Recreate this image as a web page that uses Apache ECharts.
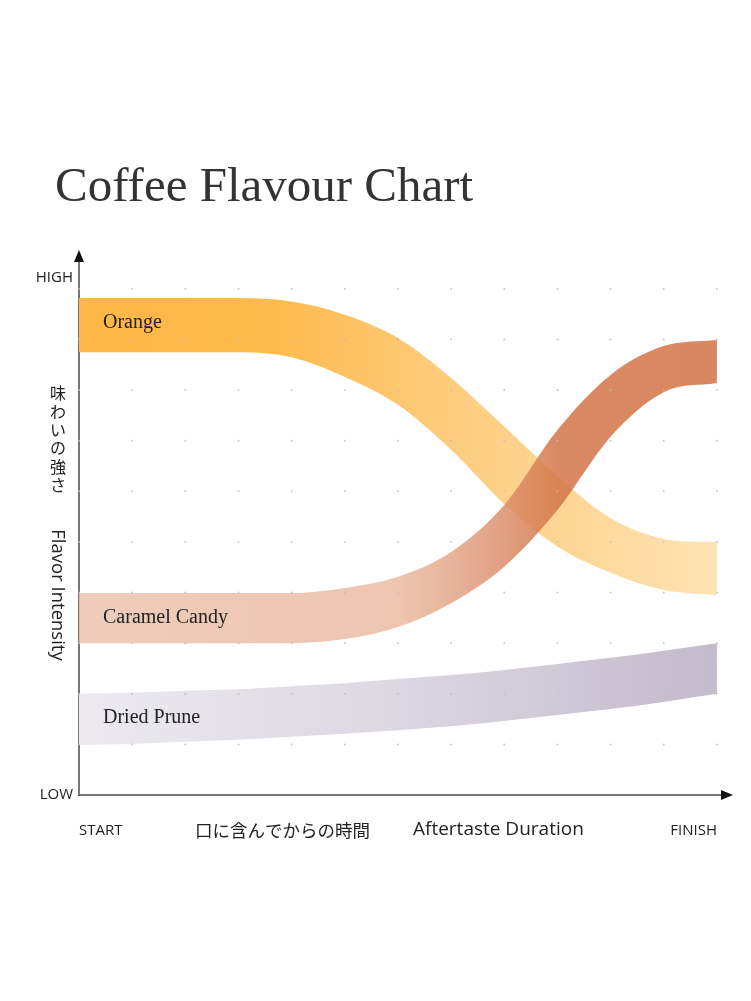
<!DOCTYPE html>
<html>
<head>
<meta charset="utf-8">
<title>Coffee Flavour Chart</title>
<script src="https://cdn.jsdelivr.net/npm/echarts@6/dist/echarts.min.js"></script>
<style>
  html, body { margin: 0; padding: 0; background: #fff; }
  #main { width: 751px; height: 1001px; }
</style>
</head>
<body>
<div id="main"></div>
<script>
// time steps along the x axis (START = 0 .. FINISH = 12)
const steps = [0, 1, 2, 3, 4, 5, 6, 7, 8, 9, 10, 11, 12]

// band edges (flavor intensity, 0 = LOW .. 10 = HIGH)
const orangeHigh = [9.82, 9.82, 9.82, 9.82, 9.75, 9.49, 9.03, 8.24, 7.28, 6.30, 5.47, 5.06, 5.00]
const orangeLow = [8.75, 8.75, 8.75, 8.75, 8.65, 8.26, 7.71, 6.82, 5.75, 4.91, 4.39, 4.05, 3.95]
const caramelHigh = [3.99, 3.99, 3.99, 3.99, 3.99, 4.09, 4.31, 4.80, 5.73, 7.21, 8.30, 8.87, 8.99]
const caramelLow = [3.00, 3.00, 3.00, 3.00, 3.00, 3.08, 3.32, 3.79, 4.51, 5.63, 7.08, 7.96, 8.14]
const pruneHigh = [2.00, 2.02, 2.06, 2.09, 2.15, 2.21, 2.29, 2.37, 2.47, 2.59, 2.71, 2.85, 3.00]
const pruneLow = [0.99, 1.01, 1.05, 1.09, 1.15, 1.21, 1.28, 1.36, 1.46, 1.58, 1.70, 1.84, 2.00]

// dotted background grid
const dotXs = [0, 1, 2, 3, 4, 5, 6, 7, 8, 9, 10, 11, 12]
const dotYs = [1, 2, 3, 4, 5, 6, 7, 8, 9, 10]

const SERIF = '"Liberation Serif", "Times New Roman", serif'
const SANS = '"Open Sans", "Noto Sans", sans-serif'
const CJK = '"Noto Sans CJK JP", sans-serif'

function gradient (stops) {
  return {
    type: 'linear', x: 0, y: 0, x2: 1, y2: 0,
    colorStops: stops.map(s => ({ offset: s[0], color: s[1] }))
  }
}

// cardinal-style tangents; flat where a neighbour segment is flat or the direction turns
function tangents (pts) {
  const n = pts.length
  const d = []
  for (let i = 0; i < n - 1; i++) {
    d.push((pts[i + 1][1] - pts[i][1]) / (pts[i + 1][0] - pts[i][0]))
  }
  const m = [d[0]]
  for (let i = 1; i < n - 1; i++) {
    if (d[i - 1] * d[i] <= 0) m.push(0)
    else m.push((pts[i + 1][1] - pts[i - 1][1]) / (pts[i + 1][0] - pts[i - 1][0]))
  }
  m.push(d[n - 2])
  return m
}

// lower edge is walked backwards, so tangents are computed on the forward order
function curve (pts, reverse) {
  const m = tangents(pts)
  const idx = pts.map((p, i) => i)
  if (reverse) idx.reverse()
  let p = (reverse ? 'L' : 'M') + pts[idx[0]][0] + ',' + pts[idx[0]][1]
  for (let k = 0; k < idx.length - 1; k++) {
    const a = idx[k]
    const b = idx[k + 1]
    const h = (pts[b][0] - pts[a][0]) / 3
    p += 'C' + (pts[a][0] + h) + ',' + (pts[a][1] + m[a] * h) + ' ' +
      (pts[b][0] - h) + ',' + (pts[b][1] - m[b] * h) + ' ' +
      pts[b][0] + ',' + pts[b][1]
  }
  return p
}

function band (name, low, high, stops, opacity) {
  return {
    name: name,
    type: 'custom',
    silent: true,
    clip: false,
    data: steps.map((x, i) => [x, low[i], high[i]]),
    renderItem: function (params, api) {
      if (params.dataIndex !== 0) return null
      const top = steps.map((x, i) => api.coord([x, high[i]]))
      const bottom = steps.map((x, i) => api.coord([x, low[i]]))
      return {
        type: 'path',
        shape: { pathData: curve(top, false) + curve(bottom, true) + 'Z' },
        style: { fill: gradient(stops), opacity: opacity }
      }
    }
  }
}

const dots = []
dotXs.forEach(x => dotYs.forEach(y => dots.push([x, y])))

function txt (text, x, y, font, align, valign, fill) {
  return {
    type: 'text',
    x: x,
    y: y,
    z: 100,
    silent: true,
    style: {
      text: text,
      font: font,
      fill: fill || '#222',
      align: align,
      textAlign: align,
      verticalAlign: valign,
      textVerticalAlign: valign
    }
  }
}

// gray axis line, plus a twin axis that only contributes a black arrow head
function axis (max, position, arrowOnly) {
  return {
    type: 'value',
    min: 0,
    max: max,
    position: position,
    axisLine: {
      show: true,
      onZero: false,
      lineStyle: arrowOnly
        ? { color: '#111', width: 1, type: [0, 4000] }
        : { color: '#777', width: 2 },
      symbol: arrowOnly ? ['none', 'triangle'] : ['none', 'none'],
      symbolSize: [10, 12]
    },
    axisTick: { show: false },
    axisLabel: { show: false },
    splitLine: { show: false }
  }
}

const chart = echarts.init(document.getElementById('main'))
const vertical = txt('味\nわ\nい\nの\n強\nさ', 58, 384, '16px ' + CJK, 'center', 'top')
vertical.style.lineHeight = 18.4
const rotated = txt('Flavor Intensity', 57, 595, '18.5px ' + SANS, 'center', 'middle')
rotated.rotation = -Math.PI / 2

const option = {
  animation: false,
  backgroundColor: '#fff',
  grid: { left: 79, right: 24, top: 256, bottom: 206 },
  xAxis: [axis(12.19, 'bottom', false), axis(12.19, 'bottom', true)],
  yAxis: [axis(10.65, 'left', false), axis(10.65, 'left', true)],
  series: [
    {
      name: 'dots',
      type: 'scatter',
      silent: true,
      symbolSize: 2,
      itemStyle: { color: '#bdbdbd' },
      data: dots
    },
    band('Dried Prune', pruneLow, pruneHigh,
      [[0, '#eceaf0'], [0.5, '#dcd7e1'], [1, '#c3bacb']], 1),
    band('Orange', orangeLow, orangeHigh,
      [[0, '#fdb747'], [0.28, '#fdb94b'], [0.6, '#fdcd80'], [1, '#fee3b4']], 1),
    band('Caramel Candy', caramelLow, caramelHigh,
      [[0, '#ecc4ae'], [0.5, '#eabba2'], [0.58, '#e4a78a'], [0.66, '#dd906e'],
        [0.75, '#d37547'], [1, '#d27244']], 0.85)
  ],
  graphic: [
    txt('Coffee Flavour Chart', 55, 188, '49px ' + SERIF, 'left', 'middle', '#333'),
    txt('Orange', 103, 323, '20px ' + SERIF, 'left', 'middle'),
    txt('Caramel Candy', 103, 618, '20px ' + SERIF, 'left', 'middle'),
    txt('Dried Prune', 103, 718, '20px ' + SERIF, 'left', 'middle'),
    txt('HIGH', 73, 278, '15px ' + SANS, 'right', 'middle'),
    txt('LOW', 73, 795, '15px ' + SANS, 'right', 'middle'),
    txt('START', 79, 831, '15px ' + SANS, 'left', 'middle'),
    txt('FINISH', 717, 831, '15px ' + SANS, 'right', 'middle'),
    txt('口に含んでからの時間', 195, 830, '17.5px ' + CJK, 'left', 'middle'),
    txt('Aftertaste Duration', 413, 830, '19px ' + SANS, 'left', 'middle'),
    vertical,
    rotated
  ]
}
chart.setOption(option)
</script>
</body>
</html>
